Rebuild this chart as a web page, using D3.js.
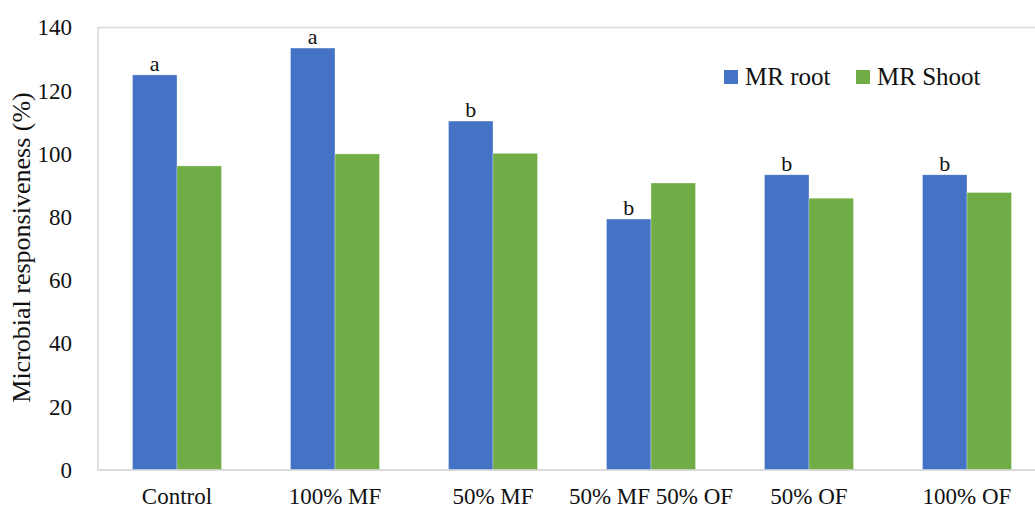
<!DOCTYPE html>
<html>
<head>
    <meta charset="UTF-8">
    <title>Microbial responsiveness</title>
    <script src="https://d3js.org/d3.v7.min.js"></script>
    <style>
        body { margin: 0; background: white; }
        text { font-family: "Palatino Linotype", "Book Antiqua", Palatino, "Liberation Serif", serif; fill: #111; }
        .tick-label { font-size: 23px; }
        .axis-title { font-size: 26px; }
        .legend-label { font-size: 25px; }
        .letter { font-size: 22px; }
    </style>
</head>
<body>
    <script>
        var width = 1035, height = 509;

        var categories = ["Control", "100% MF", "50% MF", "50% MF 50% OF", "50% OF", "100% OF"];
        var seriesNames = ["MR root", "MR Shoot"];
        var mrRoot = [125, 133.5, 110.4, 79.4, 93.4, 93.4];
        var mrShoot = [96.2, 100, 100.2, 90.8, 86, 87.8];
        var letters = ["a", "a", "b", "b", "b", "b"];
        var yTicks = [0, 20, 40, 60, 80, 100, 120, 140];
        var colors = ["#4472C4", "#70AD47"];

        var plotLeft = 98, plotRight = 1046, plotTop = 27.5, plotBottom = 470;

        var svg = d3.select("body").append("svg")
            .attr("width", width).attr("height", height);

        var x = d3.scaleBand().domain(categories).range([plotLeft, plotRight])
            .paddingInner(0.4367).paddingOuter(0.2184);
        var x1 = d3.scaleBand().domain(seriesNames).range([0, x.bandwidth()]);
        var y = d3.scaleLinear().domain([0, 140]).range([plotBottom, plotTop]);

        // plot frame
        svg.append("rect")
            .attr("x", plotLeft).attr("y", plotTop)
            .attr("width", plotRight - plotLeft).attr("height", plotBottom - plotTop)
            .attr("fill", "none").attr("stroke", "#d9d9d9").attr("stroke-width", 1.5);

        // y axis labels
        var yAxis = svg.append("g")
            .attr("transform", "translate(" + plotLeft + ",0)")
            .call(d3.axisLeft(y).tickValues(yTicks).tickSize(0).tickPadding(26));
        yAxis.select(".domain").remove();
        yAxis.selectAll("text").attr("class", "tick-label").attr("fill", "#111");

        // bars
        var groups = svg.append("g").selectAll("g").data(categories).enter().append("g")
            .attr("transform", function (d) { return "translate(" + x(d) + ",0)"; });

        groups.selectAll("rect")
            .data(function (d, i) {
                return [{ s: seriesNames[0], v: mrRoot[i] }, { s: seriesNames[1], v: mrShoot[i] }];
            })
            .enter().append("rect")
            .attr("x", function (d) { return x1(d.s); })
            .attr("y", function (d) { return y(d.v); })
            .attr("width", x1.bandwidth())
            .attr("height", function (d) { return y(0) - y(d.v); })
            .attr("fill", function (d, j) { return colors[j]; })
            .attr("stroke", "#ffffff").attr("stroke-opacity", 0.5).attr("stroke-width", 0.6);

        // significance letters
        groups.append("text").attr("class", "letter")
            .attr("x", x1(seriesNames[0]) + x1.bandwidth() / 2)
            .attr("y", function (d, i) { return y(mrRoot[i]) - 4; })
            .attr("text-anchor", "middle")
            .text(function (d, i) { return letters[i]; });

        // bottom axis line
        svg.append("line")
            .attr("x1", plotLeft).attr("x2", plotRight)
            .attr("y1", plotBottom).attr("y2", plotBottom)
            .attr("stroke", "#d9d9d9").attr("stroke-width", 1.5);

        // category labels
        svg.append("g").selectAll("text").data(categories).enter().append("text")
            .attr("class", "tick-label")
            .attr("x", function (d) { return x(d) + x.bandwidth() / 2; })
            .attr("y", 504)
            .attr("text-anchor", "middle")
            .text(function (d) { return d; });

        // y title
        svg.append("text").attr("class", "axis-title")
            .attr("transform", "translate(30,247.5) rotate(-90)")
            .attr("text-anchor", "middle")
            .text("Microbial responsiveness (%)");

        // legend
        var legend = svg.append("g").selectAll("g").data(seriesNames).enter().append("g")
            .attr("transform", function (d, i) { return "translate(" + (724 + i * 132) + ",70)"; });
        legend.append("rect").attr("width", 14).attr("height", 14)
            .attr("fill", function (d, i) { return colors[i]; });
        legend.append("text").attr("class", "legend-label")
            .attr("x", 21).attr("y", 15)
            .text(function (d) { return d; });
    </script>
</body>
</html>
